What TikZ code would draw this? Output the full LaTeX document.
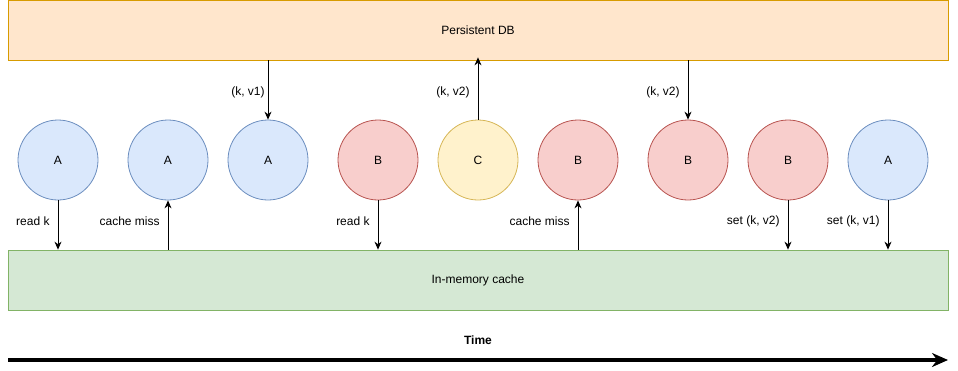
\documentclass[tikz,border=0pt]{standalone}
\usepackage{fontspec}
\setmainfont{Liberation Sans}
\usetikzlibrary{arrows.meta}
\definecolor{bfill}{HTML}{DAE8FC}\definecolor{bdraw}{HTML}{6C8EBF}
\definecolor{rfill}{HTML}{F8CECC}\definecolor{rdraw}{HTML}{B85450}
\definecolor{yfill}{HTML}{FFF2CC}\definecolor{ydraw}{HTML}{D6B656}
\definecolor{ofill}{HTML}{FFE6CC}\definecolor{odraw}{HTML}{D79B00}
\definecolor{gfill}{HTML}{D5E8D4}\definecolor{gdraw}{HTML}{82B366}
\begin{document}
\begin{tikzpicture}[x=1pt,y=-1pt,
  font=\fontsize{12}{14}\selectfont,
  proc/.style={circle,minimum size=80pt,inner sep=0pt,line width=0.8pt},
  pa/.style={proc,fill=bfill,draw=bdraw},
  pb/.style={proc,fill=rfill,draw=rdraw},
  pc/.style={proc,fill=yfill,draw=ydraw},
  store/.style={rectangle,minimum width=940pt,minimum height=60pt,inner sep=0pt,line width=0.8pt},
  arr/.style={-{Stealth[length=8pt,width=7pt]},line width=0.8pt},
  lbl/.style={left,inner sep=0pt,xshift=-8pt}]
\useasboundingbox (0,0) rectangle (958,370);
\node[store,fill=ofill,draw=odraw] (db) at (478,30) {Persistent DB};
\node[store,fill=gfill,draw=gdraw] (cache) at (478,280) {In-memory cache};
\node[pa] (a1) at (58,160) {A};
\node[pa] (a2) at (168,160) {A};
\node[pa] (a3) at (268,160) {A};
\node[pb] (b1) at (378,160) {B};
\node[pc] (c1) at (478,160) {C};
\node[pb] (b2) at (578,160) {B};
\node[pb] (b3) at (688,160) {B};
\node[pb] (b4) at (788,160) {B};
\node[pa] (a4) at (888,160) {A};
% process <-> cache
\draw[arr] (a1.south) -- node[lbl,yshift=4pt]{read k} (a1.south |- cache.north);
\draw[arr] (a2.south |- cache.north) -- node[lbl,yshift=4pt]{cache miss} (a2.south);
\draw[arr] (b1.south) -- node[lbl,yshift=4pt]{read k} (b1.south |- cache.north);
\draw[arr] (b2.south |- cache.north) -- node[lbl,yshift=4pt]{cache miss} (b2.south);
\draw[arr] (b4.south) -- node[lbl,yshift=4pt]{set (k, v2)} (b4.south |- cache.north);
\draw[arr] (a4.south) -- node[lbl,yshift=4pt]{set (k, v1)} (a4.south |- cache.north);
% DB <-> process
\draw[arr] (a3.north |- db.south) -- node[lbl,yshift=-2pt,xshift=5pt]{(k, v1)} (a3.north);
\draw[arr] (c1.north) -- node[lbl,yshift=-4pt]{(k, v2)} ([yshift=3pt]c1.north |- db.south);
\draw[arr] (b3.north |- db.south) -- node[lbl,yshift=-2pt]{(k, v2)} (b3.north);
% time axis
\coordinate (t0) at (8,360);
\coordinate (t1) at (948,360);
\draw[line width=3.5pt,-{Stealth[length=16pt,width=14pt]}] (t0) -- node[above=10pt,font=\fontsize{12}{14}\selectfont\bfseries]{Time} (t1);
\end{tikzpicture}
\end{document}
